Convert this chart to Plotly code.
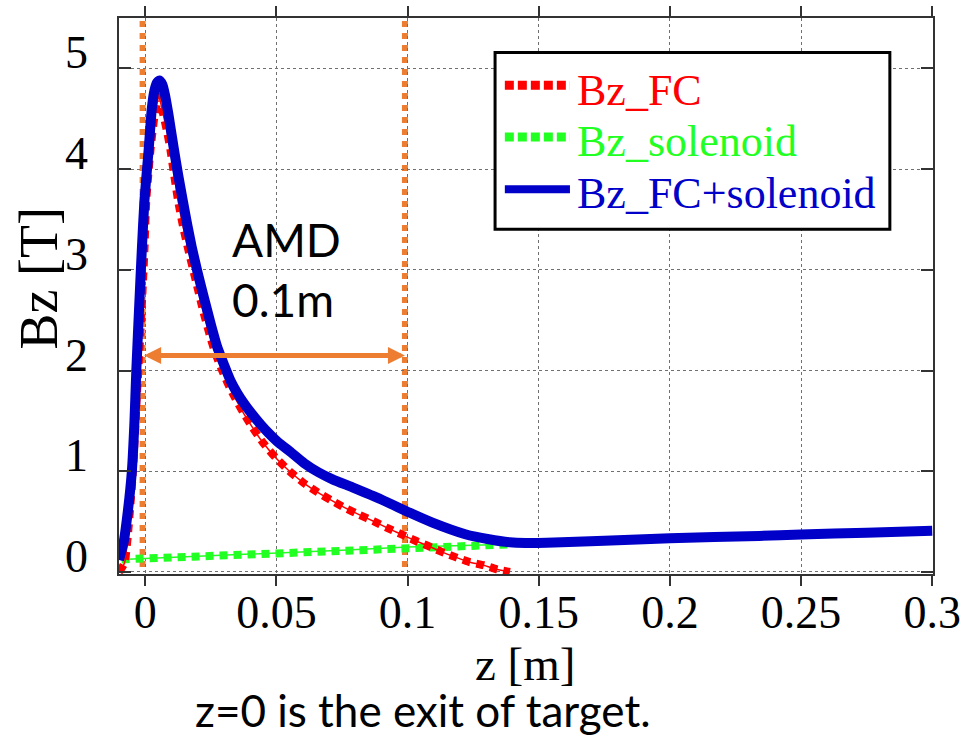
import plotly.graph_objects as go

# ---- field profiles along the beam axis ----
# flux concentrator (FC) contribution
z_fc = [-0.01, -0.0079, -0.0065, -0.0047, -0.0035, -0.0022, -0.0012, -0.0003, 0.0004,
        0.002, 0.0035, 0.0052, 0.0068, 0.0085, 0.0096, 0.0125, 0.0145, 0.0165, 0.0194,
        0.022, 0.0245, 0.0265, 0.029, 0.0315, 0.034, 0.0374, 0.041, 0.0453, 0.05, 0.055,
        0.0606, 0.0658, 0.071, 0.0762, 0.0815, 0.087, 0.092, 0.0973, 0.1026, 0.1077,
        0.113, 0.118, 0.1234, 0.129, 0.134, 0.139]
bz_fc = [0.0, 0.09, 0.4, 1.0, 1.6, 2.2, 2.7, 3.2, 3.69,
         4.19, 4.52, 4.72, 4.55, 4.35, 4.19, 3.69, 3.42, 3.19, 2.88,
         2.60, 2.36, 2.19, 2.02, 1.87, 1.74, 1.58, 1.43, 1.27, 1.127, 1.0,
         0.88, 0.79, 0.71, 0.636, 0.57, 0.504, 0.44, 0.378, 0.315, 0.26,
         0.2, 0.15, 0.1, 0.067, 0.027, 0.0]

# solenoid contribution
z_sol = [-0.009, 0.0, 0.025, 0.05, 0.075, 0.1, 0.12, 0.14]
bz_sol = [0.125, 0.135, 0.16, 0.183, 0.215, 0.249, 0.262, 0.275]

# total field
z_tot = [-0.01, -0.0095, -0.0083, -0.0066, -0.0051, -0.0041, -0.0034, -0.0022, -0.0013,
         -0.0003, 0.0013, 0.0025, 0.0035, 0.0045, 0.0054, 0.0065, 0.0075, 0.0088, 0.0108,
         0.0125, 0.0143, 0.016, 0.0177, 0.02, 0.0226, 0.025, 0.0275, 0.03, 0.0325, 0.035,
         0.0375, 0.0405, 0.044, 0.047, 0.051, 0.055, 0.0606, 0.066, 0.0714, 0.079,
         0.09, 0.1007, 0.1095, 0.122, 0.131, 0.139, 0.145, 0.153, 0.175, 0.2, 0.234,
         0.25, 0.275, 0.3]
bz_tot = [0.12, 0.17, 0.285, 0.61, 1.0, 1.5, 2.0, 2.7, 3.2,
          3.69, 4.19, 4.6, 4.78, 4.86, 4.88, 4.84, 4.74, 4.55, 4.22,
          3.95, 3.69, 3.45, 3.23, 2.97, 2.70, 2.46, 2.23, 2.06, 1.90, 1.78,
          1.68, 1.575, 1.465, 1.38, 1.28, 1.20, 1.08, 0.99, 0.92, 0.84,
          0.72, 0.59, 0.49, 0.375, 0.325, 0.295, 0.288, 0.29, 0.31, 0.335, 0.358,
          0.372, 0.39, 0.41]

series_names = ["Bz_FC", "Bz_solenoid", "Bz_FC+solenoid"]
series_colors = ["#FF0000", "#22FF22", "#0000C8"]

x_tickvals = [0, 0.05, 0.1, 0.15, 0.2, 0.25, 0.3]
x_ticktext = ["0", "0.05", "0.1", "0.15", "0.2", "0.25", "0.3"]
y_tickvals = [0, 1, 2, 3, 4, 5]
y_ticktext = ["0", "1", "2", "3", "4", "5"]

# AMD region markers
amd_start = -0.001
amd_end = 0.099
amd_arrow_level = 2.15
amd_label = "AMD<br>0.1m"

SERIF = "Liberation Serif, Times New Roman, serif"
SANS = "Lato, Carlito, Calibri, sans-serif"
ORANGE = "#ED7D31"
DOT = "8px,6px"

fig = go.Figure()

# solenoid: thin connecting line + thick square dots
fig.add_trace(go.Scatter(x=z_sol, y=bz_sol, mode="lines", showlegend=False,
                         line=dict(color=series_colors[1], width=1.5)))
fig.add_trace(go.Scatter(x=z_sol, y=bz_sol, mode="lines", name=series_names[1], showlegend=False,
                         line=dict(color=series_colors[1], width=8, dash=DOT)))
# FC: thin connecting line + thick square dots
fig.add_trace(go.Scatter(x=z_fc, y=bz_fc, mode="lines", showlegend=False,
                         line=dict(color=series_colors[0], width=1.5, shape="spline", smoothing=0.5)))
fig.add_trace(go.Scatter(x=z_fc, y=bz_fc, mode="lines", name=series_names[0], showlegend=False,
                         line=dict(color=series_colors[0], width=8, dash=DOT,
                                   shape="spline", smoothing=0.5)))
# total field
fig.add_trace(go.Scatter(x=z_tot, y=bz_tot, mode="lines", name=series_names[2], showlegend=False,
                         line=dict(color=series_colors[2], width=10, shape="spline", smoothing=0.5)))

shapes = []
# AMD boundaries
for zb in (amd_start, amd_end):
    shapes.append(dict(type="line", xref="x", yref="y", x0=zb, x1=zb, y0=0.05, y1=5.5,
                       line=dict(color=ORANGE, width=6, dash="6px,6px"), layer="below"))

# legend frame and samples
leg_x0, leg_x1 = 0.462, 0.947
leg_y0, leg_y1 = 0.620, 0.938
row_line_y = [0.879, 0.786, 0.692]
row_text_y = [0.870, 0.777, 0.684]
shapes.append(dict(type="rect", xref="paper", yref="paper", x0=leg_x0, x1=leg_x1,
                   y0=leg_y0, y1=leg_y1, line=dict(color="black", width=3),
                   fillcolor="white", layer="above"))
sample_dash = ["9px,4px", "9px,4px", "solid"]
sample_width = [9, 9, 8]
for i in range(3):
    shapes.append(dict(type="line", xref="paper", yref="paper", x0=0.474, x1=0.554,
                       y0=row_line_y[i], y1=row_line_y[i],
                       line=dict(color=series_colors[i], width=sample_width[i], dash=sample_dash[i]),
                       layer="above"))

annotations = []
for i in range(3):
    annotations.append(dict(xref="paper", yref="paper", x=0.560, y=row_text_y[i],
                            xanchor="left", yanchor="middle", showarrow=False,
                            text=series_names[i],
                            font=dict(family=SERIF, size=44, color=series_colors[i])))

# AMD span arrow
annotations.append(dict(xref="x", yref="y", axref="x", ayref="y",
                        x=amd_end, y=amd_arrow_level, ax=amd_start, ay=amd_arrow_level,
                        text="", showarrow=True, arrowhead=2, arrowside="end+start",
                        arrowsize=0.68, arrowwidth=5, arrowcolor=ORANGE,
                        standoff=0, startstandoff=0))
annotations.append(dict(xref="x", yref="y", x=0.0325, y=3.0, xanchor="left", yanchor="middle",
                        showarrow=False, text=amd_label, align="left",
                        font=dict(family=SANS, size=46, color="black")))

# axis titles and note
annotations.append(dict(xref="paper", yref="paper", x=-0.098, y=0.532, textangle=-90,
                        xanchor="center", yanchor="middle", showarrow=False, text="Bz [T]",
                        font=dict(family=SERIF, size=54, color="black")))
annotations.append(dict(xref="paper", yref="paper", x=0.499, y=-0.162,
                        xanchor="center", yanchor="middle", showarrow=False, text="z [m]",
                        font=dict(family=SERIF, size=47, color="black")))
annotations.append(dict(xref="paper", yref="paper", x=0.0909, y=-0.2445,
                        xanchor="left", yanchor="middle", showarrow=False,
                        text="z=0 is the exit of target.",
                        font=dict(family=SANS, size=44, color="black")))

axis_common = dict(showline=True, linecolor="#333333", linewidth=1.5, mirror="ticks",
                   showgrid=True, gridcolor="#707070", gridwidth=1, griddash="dot",
                   zeroline=False, tickcolor="#333333", tickwidth=1.5, automargin=False,
                   tickfont=dict(family=SERIF, size=46, color="black"))

fig.update_layout(
    width=961, height=737,
    margin=dict(l=119, r=28, t=18, b=163),
    paper_bgcolor="white", plot_bgcolor="white",
    showlegend=False,
    xaxis=dict(range=[-0.01, 0.3003], tickvals=x_tickvals, ticktext=x_ticktext,
               ticks="outside", ticklen=10, ticklabelstandoff=-13, **axis_common),
    yaxis=dict(range=[-0.02, 5.5], tickvals=y_tickvals, ticktext=y_ticktext,
               ticks="inside", ticklen=12, ticklabelstandoff=20,
               ticklabelshift=-16, **axis_common),
    shapes=shapes,
    annotations=annotations,
)

fig.write_html("out.html")
